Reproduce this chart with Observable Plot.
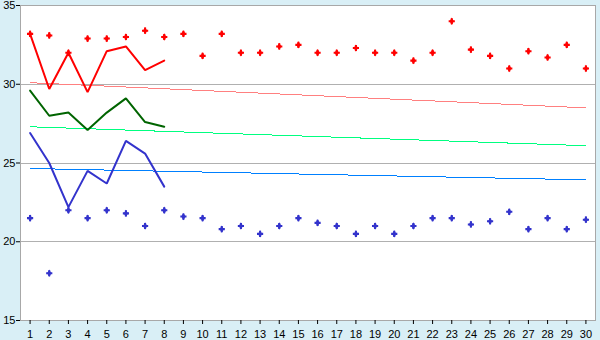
<!DOCTYPE html>
<html>
<head>
<meta charset="utf-8">
<script src="https://cdn.jsdelivr.net/npm/d3@7"></script>
<script src="https://cdn.jsdelivr.net/npm/@observablehq/plot@0.6"></script>
<style>
  html, body { margin: 0; padding: 0; background: #d9eff6; }
  #chart svg { display: block; }
</style>
</head>
<body>
<div id="chart"></div>
<script>
const days = [1,2,3,4,5,6,7,8,9,10,11,12,13,14,15,16,17,18,19,20,21,22,23,24,25,26,27,28,29,30];
const yTicks = [15,20,25,30,35];
const gridValues = [20,25,30];

const redPoints = [33.2,33.1,32.0,32.9,32.9,33.0,33.4,33.0,33.2,31.8,33.2,32.0,32.0,32.4,32.5,32.0,32.0,32.3,32.0,32.0,31.5,32.0,34.0,32.2,31.8,31.0,32.1,31.7,32.5,31.0];
const bluePoints = [21.5,18.0,22.0,21.5,22.0,21.8,21.0,22.0,21.6,21.5,20.8,21.0,20.5,21.0,21.5,21.2,21.0,20.5,21.0,20.5,21.0,21.5,21.5,21.1,21.3,21.9,20.8,21.5,20.8,21.4];

const lineDays = [1,2,3,4,5,6,7,8];
const redLine = [33.2,29.7,32.0,29.5,32.1,32.4,30.9,31.5];
const greenLine = [29.6,28.0,28.2,27.1,28.2,29.1,27.6,27.3];
const blueLine = [26.9,25.0,22.2,24.5,23.7,26.4,25.6,23.5];

const trendDays = [1,30];
const redTrend = [30.1,28.5];
const greenTrend = [27.3,26.1];
const blueTrend = [24.65,23.93];

const pts = (xs, ys) => xs.map((x, i) => ({x, y: ys[i]}));

const marker = (data, color) => [
  Plot.dot(data, {x: "x", y: "y", symbol: "cross", r: 2.6, fill: color, stroke: "none"}),
  Plot.dot(data, {x: "x", y: "y", symbol: "diamond", r: 2.2, fill: color, stroke: "none"})
];

const chart = Plot.plot({
  width: 600,
  height: 340,
  marginLeft: 20,
  marginRight: 5,
  marginTop: 5,
  marginBottom: 20,
  style: {background: "#d9eff6", fontFamily: "'Liberation Sans', Arial, sans-serif", fontSize: "11px", color: "black"},
  x: {type: "linear", domain: [0.5, 30.5]},
  y: {domain: [15, 35]},
  marks: [
    Plot.frame({fill: "white", stroke: "none"}),
    Plot.ruleY(gridValues, {stroke: "#b0b0b0", strokeWidth: 1, shapeRendering: "crispEdges"}),
    Plot.frame({stroke: "#a8a8a8", strokeWidth: 1, shapeRendering: "crispEdges"}),
    Plot.axisY({ticks: yTicks, tickSize: 4, tickPadding: 1, label: null, tickFormat: d => String(d), fontSize: 11}),
    Plot.axisX({ticks: days, tickSize: 4, tickPadding: 6, label: null, tickFormat: d => String(d), fontSize: 11}),
    Plot.line(pts(trendDays, redTrend), {x: "x", y: "y", stroke: "#ff8080", strokeWidth: 1, shapeRendering: "crispEdges"}),
    Plot.line(pts(trendDays, greenTrend), {x: "x", y: "y", stroke: "#00ff80", strokeWidth: 1, shapeRendering: "crispEdges"}),
    Plot.line(pts(trendDays, blueTrend), {x: "x", y: "y", stroke: "#0080ff", strokeWidth: 1, shapeRendering: "crispEdges"}),
    Plot.line(pts(lineDays, redLine), {x: "x", y: "y", stroke: "#ff0000", strokeWidth: 2, strokeLinejoin: "miter"}),
    Plot.line(pts(lineDays, greenLine), {x: "x", y: "y", stroke: "#006400", strokeWidth: 2, strokeLinejoin: "miter"}),
    Plot.line(pts(lineDays, blueLine), {x: "x", y: "y", stroke: "#3333cc", strokeWidth: 2, strokeLinejoin: "miter"}),
    ...marker(pts(days, redPoints), "#ff0000"),
    ...marker(pts(days, bluePoints), "#3333cc")
  ]
});
document.getElementById("chart").appendChild(chart);
</script>
</body>
</html>
